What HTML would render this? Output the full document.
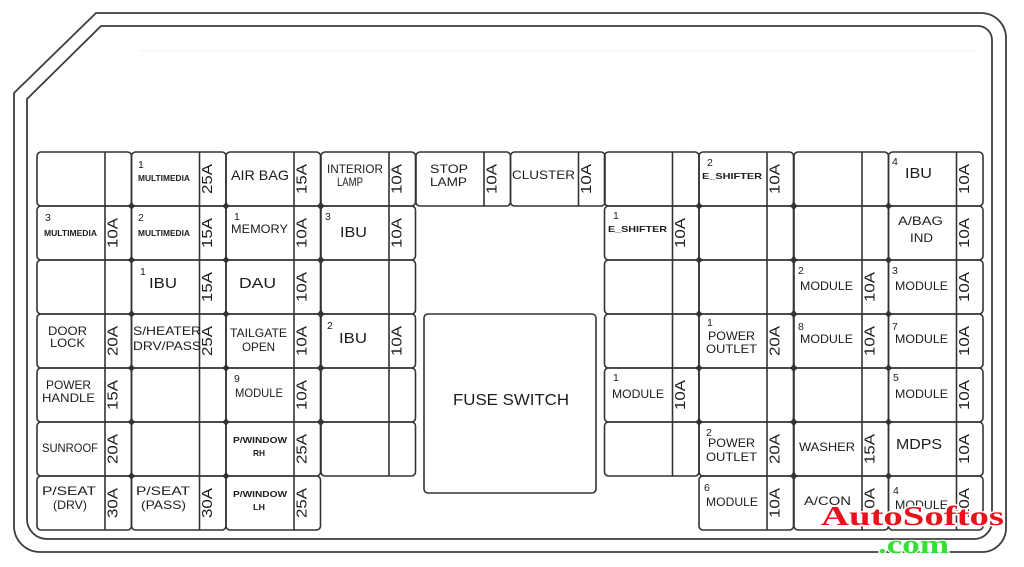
<!DOCTYPE html>
<html><head><meta charset="utf-8"><style>
html,body{margin:0;padding:0;background:#fff}
svg{display:block}
text{font-family:"Liberation Sans",sans-serif;fill:#1c1c1c}
.n{font-size:10.5px}
.s{font-size:8.5px;font-weight:bold}
.m{font-size:12px}
.b{font-size:14px}
.a{font-size:15px}
.w{font-family:"Liberation Serif",serif;font-weight:bold}
</style></head><body>
<svg width="1024" height="567" viewBox="0 0 1024 567" xmlns="http://www.w3.org/2000/svg">
<defs>
<g id="c"><rect x="0" y="0" width="94.5" height="54" rx="4" fill="none" stroke="#333" stroke-width="1.6"/><line x1="68" y1="0" x2="68" y2="54" stroke="#333" stroke-width="1.6"/></g>
</defs>
<rect width="1024" height="567" fill="#fff"/>
<line x1="140" y1="51" x2="978" y2="51" stroke="#f0f0f0" stroke-width="1"/>
<path d="M14,93 L96,13 L981,13 A25,25 0 0 1 1006,38 L1006,528 A24,24 0 0 1 982,552 L40,552 A26,26 0 0 1 14,526 Z" fill="none" stroke="#3c3c3c" stroke-width="1.8"/>
<path d="M27,99 L101,26 L978,26 A14,14 0 0 1 992,40 L992,521 A18,18 0 0 1 974,539 L47,539 A20,20 0 0 1 27,519 Z" fill="none" stroke="#3c3c3c" stroke-width="1.8"/>

<!-- row 0 -->
<use href="#c" x="37" y="152"/><use href="#c" x="131.5" y="152"/><use href="#c" x="226" y="152"/><use href="#c" x="321" y="152"/><use href="#c" x="416" y="152"/><use href="#c" x="510.5" y="152"/><use href="#c" x="604.5" y="152"/><use href="#c" x="699" y="152"/><use href="#c" x="794" y="152"/><use href="#c" x="888.5" y="152"/>
<!-- rows 1-5 -->
<use href="#c" x="37" y="206"/><use href="#c" x="131.5" y="206"/><use href="#c" x="226" y="206"/><use href="#c" x="321" y="206"/><use href="#c" x="604.5" y="206"/><use href="#c" x="699" y="206"/><use href="#c" x="794" y="206"/><use href="#c" x="888.5" y="206"/>
<use href="#c" x="37" y="260"/><use href="#c" x="131.5" y="260"/><use href="#c" x="226" y="260"/><use href="#c" x="321" y="260"/><use href="#c" x="604.5" y="260"/><use href="#c" x="699" y="260"/><use href="#c" x="794" y="260"/><use href="#c" x="888.5" y="260"/>
<use href="#c" x="37" y="314"/><use href="#c" x="131.5" y="314"/><use href="#c" x="226" y="314"/><use href="#c" x="321" y="314"/><use href="#c" x="604.5" y="314"/><use href="#c" x="699" y="314"/><use href="#c" x="794" y="314"/><use href="#c" x="888.5" y="314"/>
<use href="#c" x="37" y="368"/><use href="#c" x="131.5" y="368"/><use href="#c" x="226" y="368"/><use href="#c" x="321" y="368"/><use href="#c" x="604.5" y="368"/><use href="#c" x="699" y="368"/><use href="#c" x="794" y="368"/><use href="#c" x="888.5" y="368"/>
<use href="#c" x="37" y="422"/><use href="#c" x="131.5" y="422"/><use href="#c" x="226" y="422"/><use href="#c" x="321" y="422"/><use href="#c" x="604.5" y="422"/><use href="#c" x="699" y="422"/><use href="#c" x="794" y="422"/><use href="#c" x="888.5" y="422"/>
<!-- row 6 -->
<use href="#c" x="37" y="476"/><use href="#c" x="131.5" y="476"/><use href="#c" x="226" y="476"/><use href="#c" x="699" y="476"/><use href="#c" x="794" y="476"/><use href="#c" x="888.5" y="476"/>

<!-- junction dots -->
<g fill="#333">
<circle cx="131.5" cy="206" r="1.8"/><circle cx="131.5" cy="260" r="1.8"/><circle cx="131.5" cy="314" r="1.8"/><circle cx="131.5" cy="368" r="1.8"/><circle cx="131.5" cy="422" r="1.8"/><circle cx="131.5" cy="476" r="1.8"/>
<circle cx="226" cy="206" r="1.8"/><circle cx="226" cy="260" r="1.8"/><circle cx="226" cy="314" r="1.8"/><circle cx="226" cy="368" r="1.8"/><circle cx="226" cy="422" r="1.8"/><circle cx="226" cy="476" r="1.8"/>
<circle cx="321" cy="206" r="1.8"/><circle cx="321" cy="260" r="1.8"/><circle cx="321" cy="314" r="1.8"/><circle cx="321" cy="368" r="1.8"/><circle cx="321" cy="422" r="1.8"/>
<circle cx="699" cy="206" r="1.8"/><circle cx="699" cy="260" r="1.8"/><circle cx="699" cy="314" r="1.8"/><circle cx="699" cy="368" r="1.8"/><circle cx="699" cy="422" r="1.8"/>
<circle cx="794" cy="206" r="1.8"/><circle cx="794" cy="260" r="1.8"/><circle cx="794" cy="314" r="1.8"/><circle cx="794" cy="368" r="1.8"/><circle cx="794" cy="422" r="1.8"/><circle cx="794" cy="476" r="1.8"/>
<circle cx="888.5" cy="206" r="1.8"/><circle cx="888.5" cy="260" r="1.8"/><circle cx="888.5" cy="314" r="1.8"/><circle cx="888.5" cy="368" r="1.8"/><circle cx="888.5" cy="422" r="1.8"/><circle cx="888.5" cy="476" r="1.8"/>
</g>

<!-- fuse switch -->
<rect x="424" y="314" width="172" height="179" rx="4" fill="none" stroke="#333" stroke-width="1.6"/>
<text x="453" y="405" font-size="16" textLength="116" lengthAdjust="spacingAndGlyphs">FUSE SWITCH</text>

<!-- Column A -->
<text class="n" x="45" y="221">3</text>
<text class="s" x="44" y="236" textLength="53" lengthAdjust="spacingAndGlyphs">MULTIMEDIA</text>
<text class="m" x="48" y="335" textLength="39" lengthAdjust="spacingAndGlyphs">DOOR</text>
<text class="m" x="50" y="347" textLength="35" lengthAdjust="spacingAndGlyphs">LOCK</text>
<text class="m" x="46" y="389" textLength="45" lengthAdjust="spacingAndGlyphs">POWER</text>
<text class="m" x="42" y="402" textLength="53" lengthAdjust="spacingAndGlyphs">HANDLE</text>
<text class="m" x="42" y="452" textLength="56" lengthAdjust="spacingAndGlyphs">SUNROOF</text>
<text class="m" x="42" y="495" textLength="54" lengthAdjust="spacingAndGlyphs">P/SEAT</text>
<text class="m" x="53" y="509" textLength="34" lengthAdjust="spacingAndGlyphs">(DRV)</text>

<!-- Column B -->
<text class="n" x="138" y="168">1</text>
<text class="s" x="138" y="181" textLength="52" lengthAdjust="spacingAndGlyphs">MULTIMEDIA</text>
<text class="n" x="138" y="221">2</text>
<text class="s" x="138" y="236" textLength="52" lengthAdjust="spacingAndGlyphs">MULTIMEDIA</text>
<text class="n" x="140" y="275">1</text>
<text class="a" x="149" y="288" textLength="28" lengthAdjust="spacingAndGlyphs">IBU</text>
<text class="m" x="133" y="335" textLength="68" lengthAdjust="spacingAndGlyphs">S/HEATER</text>
<text class="m" x="133" y="350" textLength="68" lengthAdjust="spacingAndGlyphs">DRV/PASS</text>
<text class="m" x="136" y="495" textLength="54" lengthAdjust="spacingAndGlyphs">P/SEAT</text>
<text class="m" x="141" y="509" textLength="45" lengthAdjust="spacingAndGlyphs">(PASS)</text>

<!-- Column C -->
<text class="b" x="231" y="180" textLength="58" lengthAdjust="spacingAndGlyphs">AIR BAG</text>
<text class="n" x="234" y="220">1</text>
<text class="m" x="231" y="233" textLength="57" lengthAdjust="spacingAndGlyphs">MEMORY</text>
<text class="a" x="239" y="288" textLength="37" lengthAdjust="spacingAndGlyphs">DAU</text>
<text class="m" x="230" y="337" textLength="57" lengthAdjust="spacingAndGlyphs">TAILGATE</text>
<text class="m" x="242" y="351" textLength="33" lengthAdjust="spacingAndGlyphs">OPEN</text>
<text class="n" x="234" y="382">9</text>
<text class="m" x="235" y="397" textLength="48" lengthAdjust="spacingAndGlyphs">MODULE</text>
<text class="s" x="233" y="443" textLength="54" lengthAdjust="spacingAndGlyphs">P/WINDOW</text>
<text class="s" x="253" y="456" textLength="12" lengthAdjust="spacingAndGlyphs">RH</text>
<text class="s" x="233" y="497" textLength="54" lengthAdjust="spacingAndGlyphs">P/WINDOW</text>
<text class="s" x="253" y="510" textLength="12" lengthAdjust="spacingAndGlyphs">LH</text>

<!-- Column D -->
<text class="m" x="327" y="173" textLength="56" lengthAdjust="spacingAndGlyphs">INTERIOR</text>
<text class="m" x="337" y="186" textLength="26" lengthAdjust="spacingAndGlyphs">LAMP</text>
<text class="n" x="325" y="220">3</text>
<text class="a" x="340" y="237" textLength="27" lengthAdjust="spacingAndGlyphs">IBU</text>
<text class="n" x="327" y="329">2</text>
<text class="a" x="339" y="343" textLength="28" lengthAdjust="spacingAndGlyphs">IBU</text>

<!-- Column E, F -->
<text class="m" x="430" y="173" textLength="38" lengthAdjust="spacingAndGlyphs">STOP</text>
<text class="m" x="430" y="186" textLength="37" lengthAdjust="spacingAndGlyphs">LAMP</text>
<text class="m" x="512" y="179" textLength="63" lengthAdjust="spacingAndGlyphs">CLUSTER</text>

<!-- Column G -->
<text class="n" x="613" y="219">1</text>
<text class="s" x="608" y="232" textLength="59" lengthAdjust="spacingAndGlyphs">E_SHIFTER</text>
<text class="n" x="613" y="381">1</text>
<text class="m" x="612" y="398" textLength="52" lengthAdjust="spacingAndGlyphs">MODULE</text>

<!-- Column H -->
<text class="n" x="707" y="166">2</text>
<text class="s" x="702" y="179" textLength="60" lengthAdjust="spacingAndGlyphs">E_SHIFTER</text>
<text class="n" x="707" y="326">1</text>
<text class="m" x="708" y="340" textLength="47" lengthAdjust="spacingAndGlyphs">POWER</text>
<text class="m" x="706" y="353" textLength="51" lengthAdjust="spacingAndGlyphs">OUTLET</text>
<text class="n" x="706" y="436">2</text>
<text class="m" x="708" y="447" textLength="47" lengthAdjust="spacingAndGlyphs">POWER</text>
<text class="m" x="706" y="461" textLength="51" lengthAdjust="spacingAndGlyphs">OUTLET</text>
<text class="n" x="704" y="491">6</text>
<text class="m" x="706" y="506" textLength="52" lengthAdjust="spacingAndGlyphs">MODULE</text>

<!-- Column I -->
<text class="n" x="798" y="274">2</text>
<text class="m" x="800" y="290" textLength="53" lengthAdjust="spacingAndGlyphs">MODULE</text>
<text class="n" x="798" y="330">8</text>
<text class="m" x="800" y="343" textLength="53" lengthAdjust="spacingAndGlyphs">MODULE</text>
<text class="m" x="799" y="451" textLength="56" lengthAdjust="spacingAndGlyphs">WASHER</text>
<text class="m" x="804" y="505" textLength="47" lengthAdjust="spacingAndGlyphs">A/CON</text>

<!-- Column J -->
<text class="n" x="892" y="165">4</text>
<text class="a" x="905" y="178" textLength="27" lengthAdjust="spacingAndGlyphs">IBU</text>
<text class="m" x="898" y="225" textLength="45" lengthAdjust="spacingAndGlyphs">A/BAG</text>
<text class="m" x="910" y="242" textLength="23" lengthAdjust="spacingAndGlyphs">IND</text>
<text class="n" x="892" y="274">3</text>
<text class="m" x="895" y="290" textLength="53" lengthAdjust="spacingAndGlyphs">MODULE</text>
<text class="n" x="892" y="330">7</text>
<text class="m" x="895" y="343" textLength="53" lengthAdjust="spacingAndGlyphs">MODULE</text>
<text class="n" x="893" y="381">5</text>
<text class="m" x="895" y="398" textLength="53" lengthAdjust="spacingAndGlyphs">MODULE</text>
<text class="a" x="896" y="449" textLength="46" lengthAdjust="spacingAndGlyphs">MDPS</text>
<text class="n" x="893" y="494">4</text>
<text class="m" x="895" y="509" textLength="53" lengthAdjust="spacingAndGlyphs">MODULE</text>

<!-- Amp ratings (rotated) -->
<g font-size="15">
<text transform="translate(112,233) rotate(-90)" x="-15" y="5.3" textLength="30" lengthAdjust="spacingAndGlyphs">10A</text>
<text transform="translate(112,341) rotate(-90)" x="-15" y="5.3" textLength="30" lengthAdjust="spacingAndGlyphs">20A</text>
<text transform="translate(112,395) rotate(-90)" x="-15" y="5.3" textLength="30" lengthAdjust="spacingAndGlyphs">15A</text>
<text transform="translate(112,449) rotate(-90)" x="-15" y="5.3" textLength="30" lengthAdjust="spacingAndGlyphs">20A</text>
<text transform="translate(112,503) rotate(-90)" x="-15" y="5.3" textLength="30" lengthAdjust="spacingAndGlyphs">30A</text>

<text transform="translate(206.5,179) rotate(-90)" x="-15" y="5.3" textLength="30" lengthAdjust="spacingAndGlyphs">25A</text>
<text transform="translate(206.5,233) rotate(-90)" x="-15" y="5.3" textLength="30" lengthAdjust="spacingAndGlyphs">15A</text>
<text transform="translate(206.5,287) rotate(-90)" x="-15" y="5.3" textLength="30" lengthAdjust="spacingAndGlyphs">15A</text>
<text transform="translate(206.5,341) rotate(-90)" x="-15" y="5.3" textLength="30" lengthAdjust="spacingAndGlyphs">25A</text>
<text transform="translate(206.5,503) rotate(-90)" x="-15" y="5.3" textLength="30" lengthAdjust="spacingAndGlyphs">30A</text>

<text transform="translate(301,179) rotate(-90)" x="-15" y="5.3" textLength="30" lengthAdjust="spacingAndGlyphs">15A</text>
<text transform="translate(301,233) rotate(-90)" x="-15" y="5.3" textLength="30" lengthAdjust="spacingAndGlyphs">10A</text>
<text transform="translate(301,287) rotate(-90)" x="-15" y="5.3" textLength="30" lengthAdjust="spacingAndGlyphs">10A</text>
<text transform="translate(301,341) rotate(-90)" x="-15" y="5.3" textLength="30" lengthAdjust="spacingAndGlyphs">10A</text>
<text transform="translate(301,395) rotate(-90)" x="-15" y="5.3" textLength="30" lengthAdjust="spacingAndGlyphs">10A</text>
<text transform="translate(301,449) rotate(-90)" x="-15" y="5.3" textLength="30" lengthAdjust="spacingAndGlyphs">25A</text>
<text transform="translate(301,503) rotate(-90)" x="-15" y="5.3" textLength="30" lengthAdjust="spacingAndGlyphs">25A</text>

<text transform="translate(396,179) rotate(-90)" x="-15" y="5.3" textLength="30" lengthAdjust="spacingAndGlyphs">10A</text>
<text transform="translate(396,233) rotate(-90)" x="-15" y="5.3" textLength="30" lengthAdjust="spacingAndGlyphs">10A</text>
<text transform="translate(396,341) rotate(-90)" x="-15" y="5.3" textLength="30" lengthAdjust="spacingAndGlyphs">10A</text>

<text transform="translate(491,179) rotate(-90)" x="-15" y="5.3" textLength="30" lengthAdjust="spacingAndGlyphs">10A</text>
<text transform="translate(585.5,179) rotate(-90)" x="-15" y="5.3" textLength="30" lengthAdjust="spacingAndGlyphs">10A</text>

<text transform="translate(679.5,233) rotate(-90)" x="-15" y="5.3" textLength="30" lengthAdjust="spacingAndGlyphs">10A</text>
<text transform="translate(679.5,395) rotate(-90)" x="-15" y="5.3" textLength="30" lengthAdjust="spacingAndGlyphs">10A</text>

<text transform="translate(774,179) rotate(-90)" x="-15" y="5.3" textLength="30" lengthAdjust="spacingAndGlyphs">10A</text>
<text transform="translate(774,341) rotate(-90)" x="-15" y="5.3" textLength="30" lengthAdjust="spacingAndGlyphs">20A</text>
<text transform="translate(774,449) rotate(-90)" x="-15" y="5.3" textLength="30" lengthAdjust="spacingAndGlyphs">20A</text>
<text transform="translate(774,503) rotate(-90)" x="-15" y="5.3" textLength="30" lengthAdjust="spacingAndGlyphs">10A</text>

<text transform="translate(869,287) rotate(-90)" x="-15" y="5.3" textLength="30" lengthAdjust="spacingAndGlyphs">10A</text>
<text transform="translate(869,341) rotate(-90)" x="-15" y="5.3" textLength="30" lengthAdjust="spacingAndGlyphs">10A</text>
<text transform="translate(869,449) rotate(-90)" x="-15" y="5.3" textLength="30" lengthAdjust="spacingAndGlyphs">15A</text>
<text transform="translate(869,503) rotate(-90)" x="-15" y="5.3" textLength="30" lengthAdjust="spacingAndGlyphs">10A</text>

<text transform="translate(963.5,179) rotate(-90)" x="-15" y="5.3" textLength="30" lengthAdjust="spacingAndGlyphs">10A</text>
<text transform="translate(963.5,233) rotate(-90)" x="-15" y="5.3" textLength="30" lengthAdjust="spacingAndGlyphs">10A</text>
<text transform="translate(963.5,287) rotate(-90)" x="-15" y="5.3" textLength="30" lengthAdjust="spacingAndGlyphs">10A</text>
<text transform="translate(963.5,341) rotate(-90)" x="-15" y="5.3" textLength="30" lengthAdjust="spacingAndGlyphs">10A</text>
<text transform="translate(963.5,395) rotate(-90)" x="-15" y="5.3" textLength="30" lengthAdjust="spacingAndGlyphs">10A</text>
<text transform="translate(963.5,449) rotate(-90)" x="-15" y="5.3" textLength="30" lengthAdjust="spacingAndGlyphs">10A</text>
<text transform="translate(963.5,503) rotate(-90)" x="-15" y="5.3" textLength="30" lengthAdjust="spacingAndGlyphs">10A</text>
</g>

<!-- watermark -->
<text class="w" x="821" y="525" font-size="27" style="fill:#e8121c" stroke="#fff" stroke-width="3" paint-order="stroke" textLength="183" lengthAdjust="spacingAndGlyphs">AutoSoftos</text>
<text class="w" x="878" y="553" font-size="26" style="fill:#33e033" stroke="#fff" stroke-width="2" paint-order="stroke" textLength="71" lengthAdjust="spacingAndGlyphs">.com</text>
</svg>
</body></html>
